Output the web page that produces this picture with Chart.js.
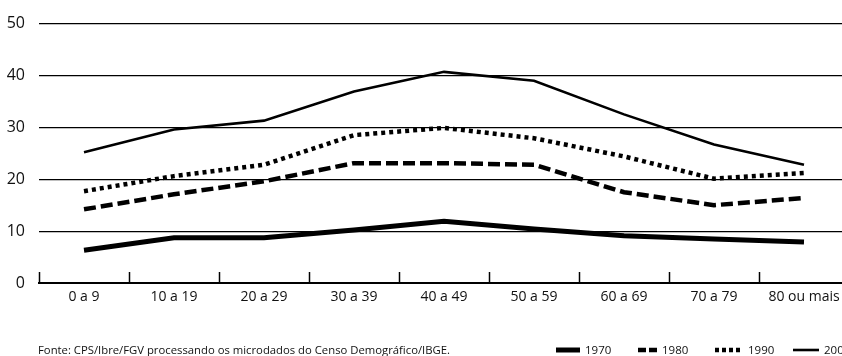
<!DOCTYPE html>
<html>
<head>
<meta charset="utf-8">
<script src="https://cdn.jsdelivr.net/npm/chart.js@4.4.1/dist/chart.umd.min.js"></script>
<style>
  html, body { margin: 0; padding: 0; overflow: hidden; background: #fff; }
  #wrap { width: 850px; height: 356px; position: relative; }
</style>
</head>
<body>
<div id="wrap"><canvas id="chart"></canvas></div>
<script>
// faixas etarias
const ageGroups = ['0 a 9', '10 a 19', '20 a 29', '30 a 39', '40 a 49', '50 a 59', '60 a 69', '70 a 79', '80 ou mais'];
const years = ['1970', '1980', '1990', '2000'];

const values1970 = [6.3, 8.7, 8.7, 10.2, 11.9, 10.4, 9.1, 8.5, 7.9];
const values1980 = [14.2, 17.1, 19.6, 23.1, 23.1, 22.8, 17.5, 15.0, 16.4];
const values1990 = [17.7, 20.6, 22.8, 28.5, 29.9, 27.9, 24.4, 20.1, 21.2];
const values2000 = [25.2, 29.6, 31.3, 36.9, 40.7, 39.0, 32.5, 26.7, 22.8];

const yTicks = [0, 10, 20, 30, 40, 50];
const sourceText = 'Fonte: CPS/Ibre/FGV processando os microdados do Censo Demográfico/IBGE.';

Chart.defaults.font.family = "'Open Sans', sans-serif";
Chart.defaults.color = '#111';

function line(label, data, width, dash) {
  return {
    label: label,
    data: data,
    borderColor: '#000',
    backgroundColor: '#000',
    borderWidth: width,
    borderDash: dash,
    borderCapStyle: 'butt',
    borderJoinStyle: 'miter',
    pointRadius: 0,
    tension: 0,
    fill: false
  };
}

// ticks pointing up from the x axis + legend + source line
const extras = {
  id: 'extras',
  afterDraw(chart) {
    const ctx = chart.ctx;
    const x = chart.scales.x;
    const n = ageGroups.length;
    ctx.save();
    ctx.strokeStyle = '#000';
    ctx.lineWidth = 1.5;
    for (let i = 0; i <= n; i++) {
      const px = Math.round(x.left + i * x.width / n) + 0.5;
      ctx.beginPath();
      ctx.moveTo(px, x.top - 11);
      ctx.lineTo(px, x.top);
      ctx.stroke();
    }

    ctx.font = "11.3px 'Open Sans', sans-serif";
    ctx.fillStyle = '#111';
    ctx.textBaseline = 'alphabetic';
    ctx.fillText(sourceText, 38, 354);

    ctx.font = "11.5px 'Open Sans', sans-serif";
    const boxes = [[556, 24], [638, 19], [715, 28], [793, 26]];
    const legendDash = [[], [8, 3], [4, 3], []];
    chart.data.datasets.forEach((ds, i) => {
      const [bx, bw] = boxes[i];
      ctx.beginPath();
      ctx.lineWidth = ds.borderWidth;
      ctx.setLineDash(legendDash[i]);
      ctx.lineCap = 'butt';
      ctx.moveTo(bx, 350);
      ctx.lineTo(bx + bw, 350);
      ctx.stroke();
      ctx.setLineDash([]);
      ctx.fillText(ds.label, bx + bw + 5, 354);
    });
    ctx.restore();
  }
};

new Chart(document.getElementById('chart'), {
  type: 'line',
  data: {
    labels: ageGroups,
    datasets: [
      line(years[0], values1970, 5, []),
      line(years[1], values1980, 4.5, [12, 5]),
      line(years[2], values1990, 4.5, [4, 4]),
      line(years[3], values2000, 2.6, [])
    ]
  },
  options: {
    responsive: true,
    maintainAspectRatio: false,
    animation: false,
    layout: { padding: { top: 20, right: 1, bottom: 0, left: 0 } },
    plugins: {
      legend: { display: false },
      tooltip: { enabled: false }
    },
    scales: {
      x: {
        type: 'category',
        offset: true,
        grid: { display: false, drawTicks: false },
        border: { display: true, color: '#000', width: 2 },
        ticks: { padding: 6, font: { size: 14 }, maxRotation: 0, autoSkip: false },
        afterFit(scale) { scale.height = 73; }
      },
      y: {
        min: 0,
        max: 50,
        afterBuildTicks(scale) { scale.ticks = yTicks.map(v => ({ value: v })); },
        grid: { color: '#000', lineWidth: 1.2, drawTicks: false },
        border: { display: false },
        ticks: { padding: 14, font: { size: 16 } },
        afterFit(scale) { scale.width = 39; }
      }
    }
  },
  plugins: [extras]
});
</script>
</body>
</html>
